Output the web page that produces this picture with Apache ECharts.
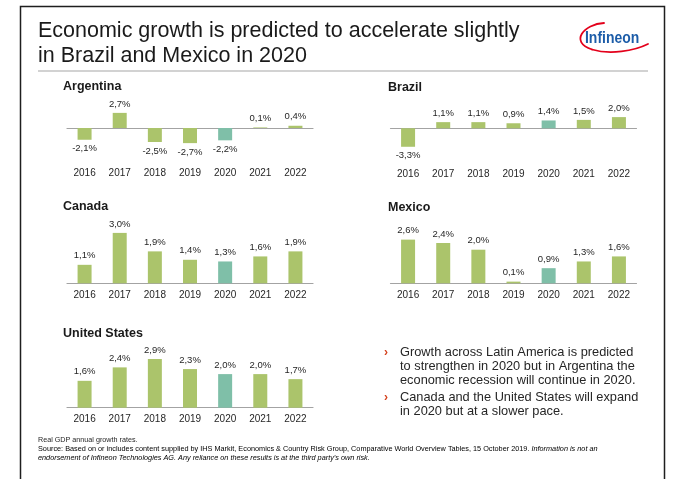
<!DOCTYPE html>
<html>
<head>
<meta charset="utf-8">
<script src="https://cdn.jsdelivr.net/npm/echarts@6/dist/echarts.min.js"></script>
<style>
  html, body { margin: 0; padding: 0; background: #ffffff; }
  #chart { width: 678px; height: 479px; }
</style>
</head>
<body>
<div id="chart"></div>
<script>
// Real GDP annual growth rates, per cent
const years = ['2016', '2017', '2018', '2019', '2020', '2021', '2022'];
const argentina = [-2.1, 2.7, -2.5, -2.7, -2.2, 0.1, 0.4];
const brazil = [-3.3, 1.1, 1.1, 0.9, 1.4, 1.5, 2.0];
const canada = [1.1, 3.0, 1.9, 1.4, 1.3, 1.6, 1.9];
const mexico = [2.6, 2.4, 2.0, 0.1, 0.9, 1.3, 1.6];
const unitedStates = [1.6, 2.4, 2.9, 2.3, 2.0, 2.0, 1.7];
const highlightYear = '2020';

const titleLines = [
  'Economic growth is predicted to accelerate slightly',
  'in Brazil and Mexico in 2020'
];
const bullets = [
  'Growth across Latin America is predicted\nto strengthen in 2020 but in Argentina the\neconomic recession will continue in 2020.',
  'Canada and the United States will expand\nin 2020 but at a slower pace.'
];
const noteLine = 'Real GDP annual growth rates.';
const sourceLine = 'Source: Based on or includes content supplied by IHS Markit, Economics & Country Risk Group, Comparative World Overview Tables, 15 October 2019.';
const disclaimer1 = 'Information is not an';
const disclaimer2 = 'endorsement of Infineon Technologies AG. Any reliance on these results is at the third party\u2019s own risk.';

const GREEN = '#abc46b';
const TEAL = '#7fbfa8';
const TEXT = '#262626';
const FONT = "'Liberation Sans', Arial, sans-serif";

// panel layout: name, values, grid box, value range
const panels = [
  { name: 'Argentina', values: argentina, left: 67, top: 105.6, height: 56, min: -6, max: 4, margin: 6.5, tx: 63, ty: 87 },
  { name: 'Brazil', values: brazil, left: 390.5, top: 105.9, height: 56, min: -6, max: 4, margin: 7, tx: 388, ty: 88 },
  { name: 'Canada', values: canada, left: 67, top: 216.1, height: 67.2, min: 0, max: 4, margin: 7, tx: 63, ty: 207 },
  { name: 'Mexico', values: mexico, left: 390.5, top: 216.1, height: 67.2, min: 0, max: 4, margin: 7, tx: 388, ty: 208 },
  { name: 'United States', values: unitedStates, left: 67, top: 340.5, height: 67.2, min: 0, max: 4, margin: 6.3, tx: 63, ty: 334 }
];
const PANEL_W = 246;

const fmt = v => v.toFixed(1).replace('.', ',') + '%';

const grid = [], xAxis = [], yAxis = [], series = [];
panels.forEach((p, i) => {
  grid.push({ left: p.left, top: p.top, width: PANEL_W, height: p.height, containLabel: false });
  // year labels along the bottom edge
  xAxis.push({
    gridIndex: i, type: 'category', data: years,
    axisLine: { show: false, onZero: false }, axisTick: { show: false },
    axisLabel: { color: TEXT, fontFamily: FONT, fontSize: 10, margin: p.margin }
  });
  // zero line
  xAxis.push({
    gridIndex: i, type: 'category', data: years, position: 'bottom',
    axisLine: { show: true, onZero: true, lineStyle: { color: '#a3a3a3', width: 1.2 } },
    axisTick: { show: false }, axisLabel: { show: false }
  });
  yAxis.push({
    gridIndex: i, type: 'value', min: p.min, max: p.max, show: false,
    splitLine: { show: false }
  });
  series.push({
    type: 'bar', xAxisIndex: i * 2, yAxisIndex: i, barWidth: 14,
    data: p.values.map((v, k) => ({
      value: v,
      itemStyle: { color: years[k] === highlightYear ? TEAL : GREEN }
    })),
    label: {
      show: true, position: 'outside', distance: 4,
      color: TEXT, fontFamily: FONT, fontSize: 9.5,
      formatter: d => fmt(d.value)
    },
    animation: false
  });
});

const graphic = [
  // slide frame
  { type: 'rect', shape: { x: 20.5, y: 6.5, width: 644, height: 520 },
    style: { fill: 'none', stroke: '#1e1e1e', lineWidth: 1.5 }, silent: true },
  // headline
  { type: 'text', x: 38, y: 19,
    style: { text: titleLines.join('\n'), font: '21.5px ' + FONT, fill: '#1a1a1a', lineHeight: 25, verticalAlign: 'top' } },
  { type: 'line', shape: { x1: 38, y1: 71, x2: 648, y2: 71 },
    style: { stroke: '#d2d2d2', lineWidth: 2 } },
  // company mark: red swoosh and word mark
  { type: 'bezierCurve', shape: { x1: 604, y1: 23, cpx1: 584, cpy1: 24, cpx2: 569, cpy2: 42, x2: 592, y2: 49.5 },
    style: { stroke: '#e3001b', lineWidth: 1.8, fill: 'none', lineCap: 'round' } },
  { type: 'bezierCurve', shape: { x1: 592, y1: 49.5, cpx1: 610, cpy1: 55, cpx2: 634, cpy2: 51, x2: 648, y2: 44 },
    style: { stroke: '#e3001b', lineWidth: 1.8, fill: 'none', lineCap: 'round' } },
  { type: 'text', x: 585, y: 38.5, scaleX: 0.82,
    style: { text: 'Infineon', font: 'bold 17px ' + FONT, fill: '#1c5ca8', verticalAlign: 'middle' } },
  // bullet list
  { type: 'text', x: 384, y: 353, style: { text: '\u203a', font: 'bold 12px ' + FONT, fill: '#d4421e', verticalAlign: 'middle' } },
  { type: 'text', x: 400, y: 345.5,
    style: { text: bullets[0], font: '12.8px ' + FONT, fill: TEXT, lineHeight: 13.8, verticalAlign: 'top' } },
  { type: 'text', x: 384, y: 398, style: { text: '\u203a', font: 'bold 12px ' + FONT, fill: '#d4421e', verticalAlign: 'middle' } },
  { type: 'text', x: 400, y: 390.5,
    style: { text: bullets[1], font: '12.8px ' + FONT, fill: TEXT, lineHeight: 13.8, verticalAlign: 'top' } },
  // footnotes
  { type: 'text', x: 38, y: 440.5,
    style: { text: noteLine, font: '7.2px ' + FONT, fill: TEXT, verticalAlign: 'middle' } },
  { type: 'text', x: 38, y: 445,
    style: {
      text: '{n|' + sourceLine + ' }{i|' + disclaimer1 + '}\n{i|' + disclaimer2 + '}',
      rich: {
        n: { fontFamily: FONT, fontSize: 7.3, color: TEXT, lineHeight: 8.5 },
        i: { fontFamily: FONT, fontSize: 7.3, fontStyle: 'italic', color: TEXT, lineHeight: 8.5 }
      },
      verticalAlign: 'top'
    } }
];

panels.forEach(p => {
  graphic.push({ type: 'text', x: p.tx, y: p.ty,
    style: { text: p.name, font: 'bold 12.5px ' + FONT, fill: '#1a1a1a', verticalAlign: 'middle' } });
});

const chart = echarts.init(document.getElementById('chart'), null, { renderer: 'canvas' });
chart.setOption({
  animation: false,
  backgroundColor: '#ffffff',
  grid, xAxis, yAxis, series, graphic
});
</script>
</body>
</html>
